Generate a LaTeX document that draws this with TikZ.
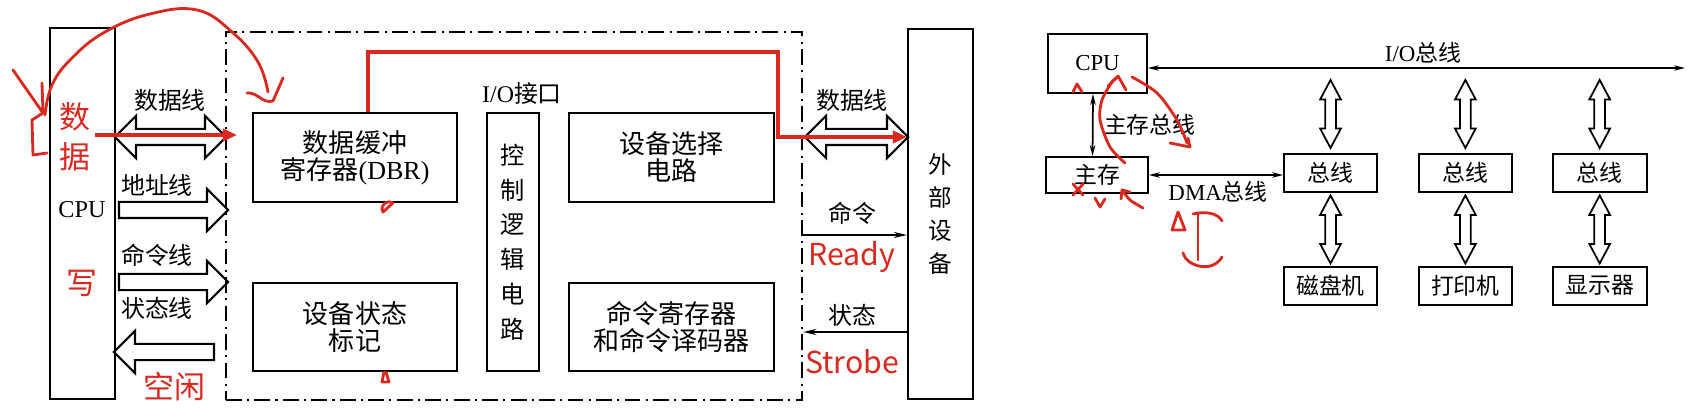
\documentclass[tikz,border=0pt]{standalone}
\usepackage{fontspec}
\setmainfont{Liberation Serif}
\newfontfamily\cjk{Noto Sans CJK SC}
\usepackage{tikz}
\usetikzlibrary{shapes,arrows.meta,positioning,calc}
\definecolor{ink}{RGB}{218,40,30}

\begin{document}
\begin{tikzpicture}[
    x=0.01cm, y=-0.01cm,
    line width=0.6pt,
    box/.style={draw, rectangle, inner sep=0pt, align=center, font=\cjk\fontsize{7.4}{7.7}\selectfont},
    tall/.style={draw, rectangle, inner sep=0pt, align=center, font=\cjk\fontsize{6.9}{9.9}\selectfont},
    lbl/.style={inner sep=0pt, font=\cjk\fontsize{6.8}{7}\selectfont},
    note/.style={inner sep=0pt, text=ink, align=center, font=\cjk\fontsize{8.8}{11.4}\selectfont},
    bus/.style={draw, double arrow, inner xsep=0pt, inner ysep=0.07cm, minimum width=0pt,
        double arrow head extend=0.13cm, double arrow tip angle=90},
    onebus/.style={draw, single arrow, inner xsep=0pt, inner ysep=0.07cm, minimum width=0pt,
        single arrow head extend=0.13cm, single arrow tip angle=90},
    sbox/.style={draw, rectangle, inner sep=0pt, line width=0.5pt, font=\cjk\fontsize{6.5}{7}\selectfont},
    slbl/.style={inner sep=0pt, font=\cjk\fontsize{6.5}{7}\selectfont},
    vbus/.style={draw, double arrow, rotate=90, inner xsep=0pt, inner ysep=0.045cm, minimum width=0pt,
        double arrow head extend=0.05cm, double arrow tip angle=56, minimum height=0.68cm, line width=0.5pt},
    sig/.style={-{Stealth[length=0.13cm, width=0.06cm]}},
    dsig/.style={{Stealth[length=0.11cm, width=0.055cm]}-{Stealth[length=0.11cm, width=0.055cm]}, line width=0.5pt},
    redline/.style={ink, line width=1.1pt, -{Triangle[length=0.14cm, width=0.12cm]}},
    scrib/.style={ink, line width=0.8pt, line cap=round, line join=round}
]
    \useasboundingbox (0,0) rectangle (1707,419);
    \fill [white] (0,0) rectangle (1707,419);

    % CPU -- I/O interface -- external device
    \node [draw, minimum width=0.65cm, minimum height=3.71cm] (cpu) at (82.5,213.5) {};
    \node [font=\fontsize{6.9}{7}\selectfont, inner sep=0pt] (cpuname) at (82,210) {CPU};
    \node [draw, dash pattern=on 4.5pt off 1.5pt on 0.6pt off 1.5pt, minimum width=5.76cm, minimum height=3.68cm] (iface) at (514,216) {};
    \node [lbl] (ifname) at (522,93) {\rmfamily I/O\cjk 接口};

    \node [box, minimum width=2.04cm, minimum height=0.89cm] (dbr) at (355,157.5) {数据缓冲\\寄存器{\rmfamily (DBR)}};
    \node [box, minimum width=2.04cm, minimum height=0.88cm] (stat) at (355,327) {设备状态\\标记};
    \node [tall, minimum width=0.52cm, minimum height=2.58cm] (ctrl) at (513,242) {控\\制\\逻\\辑\\电\\路};
    \node [box, minimum width=2.05cm, minimum height=0.89cm] (sel) at (671.5,157.5) {设备选择\\电路};
    \node [box, minimum width=2.05cm, minimum height=0.88cm] (cmd) at (671.5,327) {命令寄存器\\和命令译码器};
    \node [tall, minimum width=0.65cm, minimum height=3.70cm, font=\cjk\fontsize{6.7}{9.4}\selectfont] (ext) at (940.5,214) {外\\部\\设\\备};

    % buses on the CPU side
    \node [bus, minimum height=1.11cm] (dl) at (170.5,137) {};
    \node [onebus, minimum height=1.09cm] (al) at (169.5,210) {};
    \node [onebus, minimum height=1.09cm] (cl) at (169.5,282) {};
    \node [onebus, minimum height=1.00cm, rotate=180] (il) at (168,352) {};
    \node [lbl] (dlname) at (170,100) {数据线};
    \node [lbl] (alname) at (157,185) {地址线};
    \node [lbl] (clname) at (157,255) {命令线};
    \node [lbl] (slname) at (157,308) {状态线};

    % device side
    \node [bus, minimum height=1.03cm] (dr) at (856.5,137) {};
    \node [lbl] (drname) at (852,100) {数据线};
    \coordinate (rdy) at (0,235);
    \coordinate (stb) at (0,332);
    \draw [sig] (iface.east |- rdy) -- (ext.west |- rdy);
    \draw [sig] (ext.west |- stb) -- (iface.east |- stb);
    \node [lbl] (cmdname) at (852,213) {命令};
    \node [lbl] (stname) at (852,315) {状态};

    % red notes
    \node [note] (shu) at (75,137) {数\\据};
    \node [note] (xie) at (82,283) {写};
    \node [note] (idle) at (174,387) {空闲};
    \node [note, font=\cjk\fontsize{8.6}{9}\selectfont] (ready) at (852,257) {Ready};
    \node [note, font=\cjk\fontsize{8.6}{9}\selectfont] (strobe) at (852,362) {Strobe};
    \coordinate (pen) at (95,135);
    \draw [redline] (pen) -- (237,135);
    \draw [redline] ([xshift=0.13cm]dbr.north) |- (778,52) |- (ext.west |- dr);
    \draw [scrib] plot [smooth, tension=0.7] coordinates {(45,115) (52,85) (72,58) (105,32) (150,14) (197,10) (232,32) (258,62) (268,92)};
    \draw [scrib] (247,93) .. controls (258,92) and (262,104) .. (273,101) -- (283,78);
    \draw [scrib] (13,70) -- (43,113) (42,83) -- (43,113) -- (32,120) -- (33,155) -- (47,153);
    \draw [scrib] (383,212) .. controls (379,205) and (388,199) .. (393,203) -- cycle;
    \draw [scrib] (384,372) -- (382,382) -- (389,382) -- (386,372);

    % DMA side picture
    \node [sbox, minimum width=0.99cm, minimum height=0.59cm] (rcpu) at (1097.5,63.5) {\rmfamily CPU};
    \node [sbox, minimum width=1.02cm, minimum height=0.36cm] (mem) at (1097,175) {主存};
    \node [sbox, minimum width=0.93cm, minimum height=0.38cm] (busA) at (1330.5,173) {总线};
    \node [sbox, minimum width=0.93cm, minimum height=0.38cm, right=0.40cm of busA] (busB) {总线};
    \node [sbox, minimum width=0.94cm, minimum height=0.38cm, right=0.39cm of busB] (busC) {总线};
    \node [sbox, minimum width=0.93cm, minimum height=0.38cm, below=0.73cm of busA] (disk) {磁盘机};
    \node [sbox, minimum width=0.93cm, minimum height=0.38cm, below=0.73cm of busB] (prn) {打印机};
    \node [sbox, minimum width=0.94cm, minimum height=0.38cm, below=0.73cm of busC] (disp) {显示器};

    \coordinate (iob) at (1685,68);
    \coordinate (vt) at (0,114);
    \draw [dsig] (rcpu.east |- iob) -- (iob);
    \node [slbl] (iobname) at (1423,53) {\rmfamily I/O\cjk 总线};
    \draw [dsig] ([xshift=-0.045cm]rcpu.south) -- ([xshift=-0.045cm]mem.north);
    \node [slbl, anchor=west] (mbname) at (1103,125) {主存总线};
    \draw [dsig] (mem.east) -- (mem.east -| busA.west);
    \node [slbl] (dmaname) at (1218,192) {\rmfamily DMA\cjk 总线};

    \node [vbus] (upA) at (busA |- vt) {};
    \node [vbus] (upB) at (busB |- vt) {};
    \node [vbus] (upC) at (busC |- vt) {};
    \node [vbus] (dnA) at ($(busA.south)!0.5!(disk.north)$) {};
    \node [vbus] (dnB) at ($(busB.south)!0.5!(prn.north)$) {};
    \node [vbus] (dnC) at ($(busC.south)!0.5!(disp.north)$) {};

    % red marks on the DMA picture
    \draw [scrib] plot [smooth] coordinates {(1125,163) (1110,147) (1100,120) (1102,100) (1112,82) (1118,77)};
    \draw [scrib] (1108,86) -- (1118,76) -- (1126,90);
    \draw [scrib] plot [smooth] coordinates {(1132,77) (1157,93) (1177,120) (1187,143)};
    \draw [scrib] (1170,143) -- (1190,147) -- (1188,138);
    \draw [scrib] plot [smooth] coordinates {(1143,208) (1130,200) (1122,190)};
    \draw [scrib] (1121,199) -- (1122,190) -- (1130,192);
    \draw [scrib] (1073,92) -- (1077,84) -- (1082,92);
    \draw [scrib] (1073,184) -- (1083,195) (1083,184) -- (1073,195);
    \draw [scrib] (1095,198) -- (1100,207) -- (1105,199);
    \draw [scrib] (1172,230) -- (1178,212) -- (1185,230) -- cycle;
    \draw [scrib] (1193,214) .. controls (1205,211) and (1218,213) .. (1222,221);
    \draw [scrib] (1198,214) -- (1198,260);
    \draw [scrib] (1183,253) .. controls (1186,266) and (1212,274) .. (1222,257);
\end{tikzpicture}
\end{document}
